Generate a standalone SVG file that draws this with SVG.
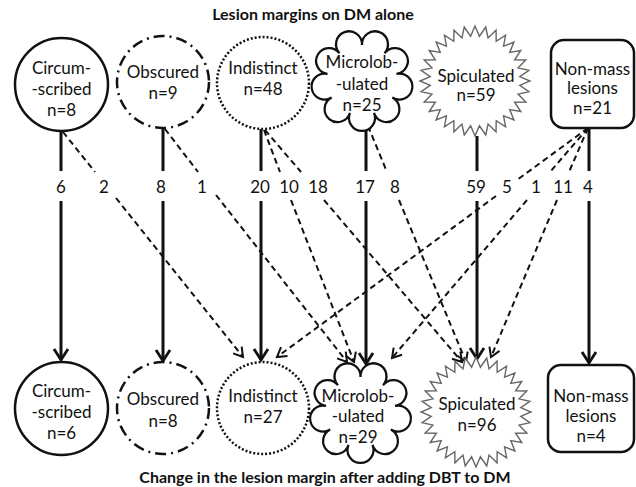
<svg xmlns="http://www.w3.org/2000/svg" xmlns:xlink="http://www.w3.org/1999/xlink" width="636" height="487" viewBox="0 0 636 487">
<style>
text{font-family:Lato,"Liberation Sans",sans-serif;font-size:17px;fill:#111;text-anchor:middle}
.title{font-weight:bold;font-size:16px}
.node{fill:#fff;stroke:#111;stroke-width:2.5}
.cloud{fill:#fff;stroke:#111;stroke-width:2}
.solidc{fill:none;stroke:#111;stroke-width:3;marker-end:url(#ah)}
.dashc{fill:none;stroke:#111;stroke-width:2;stroke-dasharray:6 4;marker-end:url(#ahd)}
</style>
<defs>
<marker id="ah" markerUnits="userSpaceOnUse" markerWidth="24" markerHeight="24" viewBox="-14 -12 16 24" refX="0" refY="0" orient="auto">
<path d="M-11,-7 L0,0 L-11,7" fill="none" stroke="#111" stroke-width="2.8"/>
</marker>
<marker id="ahd" markerUnits="userSpaceOnUse" markerWidth="20" markerHeight="20" viewBox="-12 -10 14 20" refX="0" refY="0" orient="auto">
<path d="M-9,-5.5 L0,0 L-9,5.5" fill="none" stroke="#111" stroke-width="2"/>
</marker>
<path id="cloud" d="M0,-31 A11.5,11.5 0 1 1 19.93,-23.75 A11.5,11.5 0 1 1 30.53,-5.38 A11.5,11.5 0 1 1 26.85,15.5 A11.5,11.5 0 1 1 10.60,29.13 A11.5,11.5 0 1 1 -10.60,29.13 A11.5,11.5 0 1 1 -26.85,15.5 A11.5,11.5 0 1 1 -30.53,-5.38 A11.5,11.5 0 1 1 -19.93,-23.75 A11.5,11.5 0 1 1 0,-31 Z"/>
<polygon id="star" points="0,-55 4.41,-44.78 10.73,-53.94 13.06,-43.06 21.05,-50.81 21.21,-39.69 30.56,-45.73 28.55,-34.79 38.89,-38.89 34.79,-28.55 45.73,-30.56 39.69,-21.21 50.81,-21.05 43.06,-13.06 53.94,-10.73 44.78,-4.41 55,0 44.78,4.41 53.94,10.73 43.06,13.06 50.81,21.05 39.69,21.21 45.73,30.56 34.79,28.55 38.89,38.89 28.55,34.79 30.56,45.73 21.21,39.69 21.05,50.81 13.06,43.06 10.73,53.94 4.41,44.78 0,55 -4.41,44.78 -10.73,53.94 -13.06,43.06 -21.05,50.81 -21.21,39.69 -30.56,45.73 -28.55,34.79 -38.89,38.89 -34.79,28.55 -45.73,30.56 -39.69,21.21 -50.81,21.05 -43.06,13.06 -53.94,10.73 -44.78,4.41 -55,0 -44.78,-4.41 -53.94,-10.73 -43.06,-13.06 -50.81,-21.05 -39.69,-21.21 -45.73,-30.56 -34.79,-28.55 -38.89,-38.89 -28.55,-34.79 -30.56,-45.73 -21.21,-39.69 -21.05,-50.81 -13.06,-43.06 -10.73,-53.94 -4.41,-44.78"/>
</defs>
<rect width="636" height="487" fill="#fff"/>
<text class="title" x="313" y="20">Lesion margins on DM alone</text>
<text class="title" x="325" y="483">Change in the lesion margin after adding DBT to DM</text>

<g id="connectors">
<path class="solidc" d="M61,131 L61,171 M61,201 L61,360"/>
<path class="solidc" d="M163,128 L163,171 M163,201 L163,361"/>
<path class="solidc" d="M261,129 L261,171 M261,201 L261,360"/>
<path class="solidc" d="M366,125 L366,171 M366,201 L366,364"/>
<path class="solidc" d="M477,136 L477,171 M477,201 L477,359"/>
<path class="solidc" d="M589,128 L589,171 M589,201 L589,363"/>
<path class="dashc" d="M63,132 L95,172 M116,198 L243,357"/>
<path class="dashc" d="M165,129 L198,172 M216,195 L347,362"/>
<path class="dashc" d="M264,130 L280,172 M291,200 L354,362"/>
<path class="dashc" d="M265,130 L301,172 M324,200 L462,362"/>
<path class="dashc" d="M368,126 L387,172 M399,200 L466,362"/>
<path class="dashc" d="M588,128 L517,180 M496,196 L277,357"/>
<path class="dashc" d="M588,128 L550,172 M527,200 L392,358"/>
<path class="dashc" d="M588,128 L569,172 M557,200 L491,357"/>
</g>
<g id="labels">
<text x="61" y="193">6</text>
<text x="104" y="193">2</text>
<text x="161" y="193">8</text>
<text x="202" y="193">1</text>
<text x="260" y="193">20</text>
<text x="289" y="193">10</text>
<text x="318" y="193">18</text>
<text x="365" y="193">17</text>
<text x="395" y="193">8</text>
<text x="476" y="193">59</text>
<text x="507" y="193">5</text>
<text x="536" y="193">1</text>
<text x="563" y="193">11</text>
<text x="588" y="193">4</text>
</g>

<g id="top-circumscribed">
<circle class="node" cx="61.5" cy="84.5" r="46.5"/>
<text x="61.5" y="74">Circum-</text><text x="61.5" y="95">-scribed</text><text x="61.5" y="116">n=8</text>
</g>
<g id="top-obscured">
<circle class="node" cx="163" cy="82" r="46" style="stroke-dasharray:11 5 2 5"/>
<text x="163" y="78">Obscured</text><text x="163" y="99">n=9</text>
</g>
<g id="top-indistinct">
<circle class="node" cx="263" cy="83" r="46" style="stroke-dasharray:2 2"/>
<text x="263" y="74">Indistinct</text><text x="263" y="95">n=48</text>
</g>
<g id="top-microlobulated">
<use xlink:href="#cloud" class="cloud" transform="translate(362,80) scale(1.13)"/>
<text x="362" y="68">Microlob-</text><text x="362" y="90">-ulated</text><text x="362" y="111">n=25</text>
</g>
<g id="top-spiculated">
<use xlink:href="#star" x="475" y="81" fill="#fff" stroke="#666" stroke-width="1.4"/>
<text x="476" y="82">Spiculated</text><text x="476" y="101">n=59</text>
</g>
<g id="top-nonmass">
<rect class="node" x="551" y="40" width="83" height="88" rx="13"/>
<text x="592.5" y="75">Non-mass</text><text x="592.5" y="94">lesions</text><text x="592.5" y="114">n=21</text>
</g>

<g id="bottom-circumscribed">
<circle class="node" cx="61.5" cy="408.5" r="46.5"/>
<text x="61.5" y="397">Circum-</text><text x="61.5" y="418">-scribed</text><text x="61.5" y="439">n=6</text>
</g>
<g id="bottom-obscured">
<circle class="node" cx="163" cy="408" r="46" style="stroke-dasharray:11 5 2 5"/>
<text x="163" y="405">Obscured</text><text x="163" y="427">n=8</text>
</g>
<g id="bottom-indistinct">
<circle class="node" cx="263" cy="408" r="46" style="stroke-dasharray:2 2"/>
<text x="263" y="402">Indistinct</text><text x="263" y="423">n=27</text>
</g>
<g id="bottom-microlobulated">
<use xlink:href="#cloud" class="cloud" transform="translate(360.5,412) scale(1.13)"/>
<text x="358" y="402">Microlob-</text><text x="358" y="422">-ulated</text><text x="358" y="443">n=29</text>
</g>
<g id="bottom-spiculated">
<use xlink:href="#star" x="476" y="412" fill="#fff" stroke="#666" stroke-width="1.4"/>
<text x="477" y="410">Spiculated</text><text x="477" y="431">n=96</text>
</g>
<g id="bottom-nonmass">
<rect class="node" x="548" y="365" width="86" height="87" rx="13"/>
<text x="591" y="402">Non-mass</text><text x="591" y="422">lesions</text><text x="591" y="442">n=4</text>
</g>
</svg>
